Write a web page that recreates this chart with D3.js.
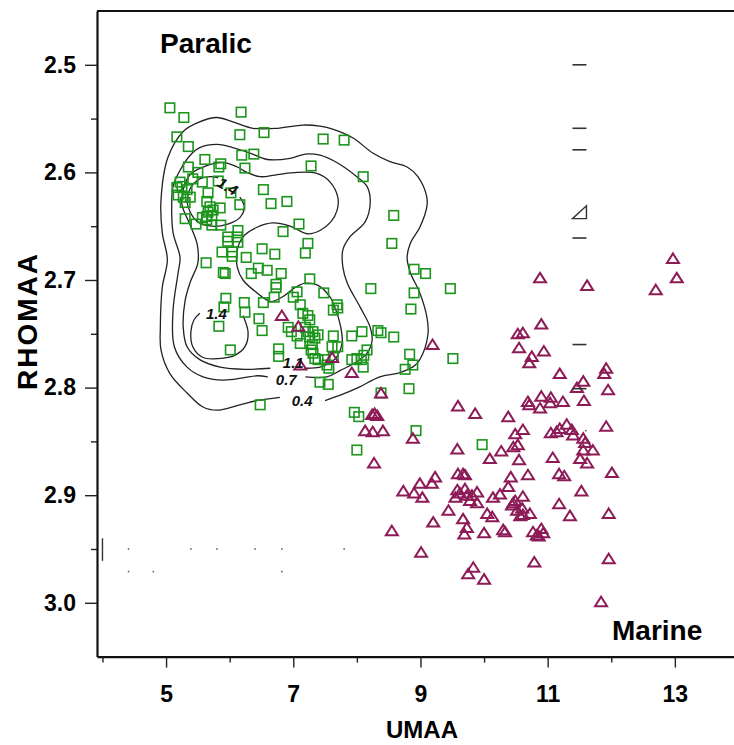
<!DOCTYPE html>
<html>
<head>
<meta charset="utf-8">
<script src="https://cdn.jsdelivr.net/npm/d3@7"></script>
<style>
  body { margin: 0; background: #fff; }
  svg { display: block; font-family: "Liberation Sans", Arial, sans-serif; }
  .tick text { font-weight: bold; }
</style>
</head>
<body>
<div id="chart"></div>
<script>
// Data: [UMAA, RHOMAA]
const paralic = [
  [5.06,2.540],[5.28,2.549],[6.18,2.544],[5.17,2.567],[6.16,2.565],[6.54,2.563],[7.47,2.569],[7.80,2.570],
  [5.35,2.576],[6.19,2.584],[6.38,2.583],[5.61,2.588],[5.86,2.592],[5.83,2.595],[5.35,2.595],[6.24,2.596],
  [7.28,2.594],[8.10,2.604],[5.50,2.600],[5.22,2.609],[5.42,2.606],[5.57,2.609],[5.82,2.608],[6.53,2.616],
  [5.17,2.614],[5.25,2.613],[5.33,2.616],[5.19,2.621],[5.27,2.623],[5.38,2.623],[5.66,2.619],[6.02,2.619],
  [5.64,2.627],[5.69,2.632],[5.66,2.637],[5.72,2.640],[5.64,2.641],[5.74,2.635],[5.85,2.633],[6.16,2.630],
  [5.30,2.628],[6.65,2.629],[6.90,2.627],[5.30,2.643],[5.47,2.648],[5.57,2.642],[5.64,2.644],[5.72,2.649],
  [5.86,2.649],[6.13,2.654],[5.97,2.660],[6.12,2.660],[5.97,2.664],[6.13,2.665],[7.09,2.648],[6.84,2.655],
  [7.23,2.666],[8.58,2.640],[8.55,2.666],[5.88,2.674],[6.04,2.674],[6.04,2.678],[6.51,2.671],[6.71,2.676],
  [7.19,2.675],[6.26,2.679],[5.63,2.684],[5.90,2.693],[5.93,2.694],[6.45,2.689],[6.59,2.691],[6.34,2.694],
  [6.81,2.694],[7.26,2.699],[6.73,2.704],[6.73,2.707],[6.70,2.716],[5.94,2.717],[5.91,2.725],[6.23,2.721],
  [6.24,2.730],[6.53,2.721],[7.00,2.716],[7.06,2.711],[7.48,2.712],[8.90,2.690],[9.08,2.694],[8.22,2.708],
  [9.47,2.708],[8.90,2.712],[8.85,2.727],[7.11,2.723],[7.23,2.733],[7.26,2.737],[7.69,2.723],[7.70,2.726],
  [7.63,2.728],[7.15,2.731],[6.46,2.736],[6.51,2.747],[5.83,2.743],[6.92,2.744],[6.97,2.748],[7.06,2.752],
  [7.11,2.759],[7.19,2.744],[7.23,2.748],[7.26,2.753],[7.31,2.748],[7.39,2.751],[7.34,2.754],[7.63,2.752],
  [7.61,2.762],[7.70,2.762],[6.01,2.765],[6.77,2.764],[6.77,2.771],[7.30,2.760],[7.28,2.765],[7.31,2.768],
  [7.34,2.773],[7.39,2.774],[7.50,2.774],[7.53,2.779],[7.56,2.782],[7.63,2.772],[7.92,2.752],[8.08,2.748],
  [8.33,2.747],[8.38,2.749],[8.58,2.753],[8.16,2.765],[7.92,2.774],[8.00,2.773],[8.07,2.774],[8.11,2.770],
  [8.10,2.781],[8.83,2.769],[9.51,2.773],[8.76,2.783],[8.88,2.779],[7.42,2.795],[7.55,2.797],[8.82,2.801],
  [8.38,2.805],[7.96,2.823],[8.03,2.827],[8.93,2.840],[8.00,2.858],[9.97,2.853],[6.48,2.816]
];

const marine = [
  [6.82,2.733],[7.08,2.743],[7.11,2.779],[7.61,2.772],[7.92,2.786],[9.19,2.760],[8.38,2.805],
  [8.24,2.825],[8.32,2.826],[8.28,2.824],[8.13,2.840],[8.25,2.841],[8.41,2.840],[8.88,2.847],[8.27,2.870],
  [8.55,2.933],[9.01,2.953],[9.59,2.817],[9.86,2.824],[10.38,2.827],[9.58,2.857],
  [10.88,2.698],[11.62,2.705],[12.97,2.680],[13.03,2.698],[12.70,2.709],
  [10.90,2.741],[10.53,2.750],[10.61,2.749],[10.55,2.763],[10.94,2.766],[10.75,2.771],[10.71,2.777],
  [11.19,2.787],[11.92,2.782],[11.89,2.787],[11.56,2.794],[11.46,2.800],[11.95,2.802],[11.57,2.812],
  [11.24,2.813],[10.90,2.808],[11.05,2.809],[11.04,2.814],[10.69,2.813],[10.71,2.816],[10.88,2.819],
  [11.92,2.836],[10.61,2.839],[10.49,2.843],[11.19,2.838],[11.30,2.834],[11.38,2.839],[11.05,2.842],
  [11.40,2.844],[11.56,2.847],[11.59,2.851],[11.56,2.858],[11.71,2.858],[11.51,2.866],[11.62,2.870],
  [10.09,2.866],[10.27,2.859],[10.55,2.867],[10.46,2.855],[10.53,2.853],[11.08,2.865],[12.01,2.879],
  [11.18,2.880],[11.26,2.882],[10.42,2.883],[10.38,2.892],[10.69,2.881],[11.53,2.896],[10.61,2.901],
  [10.25,2.899],[10.14,2.902],[10.46,2.907],[10.44,2.909],[10.52,2.914],[10.60,2.912],[10.57,2.919],
  [10.72,2.917],[10.05,2.917],[10.13,2.920],[11.18,2.908],[11.35,2.919],[11.96,2.917],[10.00,2.935],
  [10.30,2.932],[10.33,2.934],[10.77,2.934],[10.83,2.937],[10.90,2.931],[10.93,2.935],[10.86,2.938],
  [11.96,2.959],[10.79,2.962],[10.00,2.978],[11.84,2.999],
  [9.23,2.883],[8.99,2.889],[9.18,2.889],[8.73,2.896],[8.90,2.898],[9.03,2.902],[9.59,2.880],[9.67,2.880],
  [9.70,2.881],[9.58,2.895],[9.70,2.894],[9.55,2.902],[9.73,2.900],[9.81,2.900],[9.89,2.897],[9.78,2.905],
  [9.89,2.907],[9.44,2.914],[9.20,2.925],[9.67,2.922],[9.73,2.930],[9.69,2.936],[9.83,2.967],[9.75,2.973],
  [9.62,2.898],[10.49,2.905],[10.61,2.918],[11.14,2.841]
];

// Density contours (traced), each an open line broken where its label sits
const contour04 = [
  [7.50,2.812],[7.74,2.807],[8.02,2.800],[8.36,2.790],[8.68,2.786],[8.92,2.779],[9.04,2.768],[9.12,2.749],
  [9.10,2.734],[8.99,2.712],[8.84,2.693],[8.79,2.679],[8.84,2.666],[8.99,2.651],[9.10,2.632],[9.10,2.623],
  [8.96,2.604],[8.79,2.595],[8.52,2.590],[8.25,2.582],[7.94,2.568],[7.63,2.560],[7.42,2.557],[7.15,2.556],
  [6.75,2.559],[6.37,2.559],[6.05,2.553],[5.80,2.549],[5.49,2.554],[5.27,2.562],[5.03,2.586],[4.92,2.626],
  [4.94,2.656],[5.02,2.681],[4.94,2.707],[4.91,2.744],[4.92,2.765],[5.06,2.787],[5.33,2.805],[5.58,2.818],
  [5.80,2.821],[6.16,2.816],[6.43,2.812],[6.79,2.809]
];
const contour07 = [
  [7.19,2.790],[7.53,2.790],[7.74,2.784],[8.00,2.776],[8.16,2.768],[8.24,2.756],[8.21,2.744],[8.05,2.725],
  [7.85,2.703],[7.78,2.688],[7.78,2.672],[7.89,2.660],[8.13,2.646],[8.21,2.628],[8.16,2.613],[8.00,2.604],
  [7.69,2.591],[7.42,2.584],[7.19,2.583],[6.95,2.587],[6.59,2.588],[6.32,2.582],[6.05,2.577],[5.80,2.574],
  [5.53,2.577],[5.38,2.584],[5.22,2.598],[5.11,2.613],[5.09,2.626],[5.11,2.656],[5.22,2.679],[5.19,2.693],
  [5.11,2.728],[5.13,2.762],[5.33,2.781],[5.58,2.790],[5.90,2.793],[6.21,2.791],[6.43,2.789],[6.60,2.790]
];
const contour11 = [
  [7.20,2.782],[7.42,2.781],[7.61,2.776],[7.70,2.770],[7.77,2.758],[7.74,2.742],[7.67,2.728],[7.58,2.716],
  [7.39,2.705],[7.19,2.703],[7.03,2.707],[6.82,2.716],[6.64,2.720],[6.43,2.712],[6.21,2.700],[6.12,2.688],
  [6.12,2.672],[6.21,2.660],[6.43,2.651],[6.68,2.647],[6.95,2.650],[7.22,2.657],[7.42,2.654],[7.59,2.646],
  [7.69,2.635],[7.70,2.623],[7.58,2.609],[7.37,2.601],[7.06,2.600],[6.75,2.602],[6.48,2.604],[6.27,2.600],
  [6.12,2.595],[5.90,2.591],[5.58,2.595],[5.38,2.602],[5.27,2.616],[5.25,2.630],[5.38,2.649],[5.49,2.667],
  [5.50,2.684],[5.38,2.702],[5.30,2.719],[5.27,2.744],[5.33,2.762],[5.53,2.774],[5.85,2.781],[6.24,2.783],
  [6.64,2.782]
];
const contour14low = [
  [6.21,2.733],[6.29,2.749],[6.24,2.762],[6.08,2.770],[5.82,2.773],[5.58,2.772],[5.42,2.762],[5.39,2.748],
  [5.44,2.737],[5.53,2.731]
];
const contour14top = [
  [6.16,2.623],[6.23,2.632],[6.16,2.642],[5.97,2.648],[5.72,2.650],[5.50,2.646],[5.38,2.637],[5.33,2.626],
  [5.38,2.615],[5.50,2.607],[5.69,2.604],[5.82,2.605]
];
const contours = [contour04, contour07, contour11, contour14low, contour14top];

const contourLabels = [
  { text: "0.4", u: 7.14, r: 2.812, angle: 0 },
  { text: "0.7", u: 6.89, r: 2.793, angle: 0 },
  { text: "1.1", u: 7.00, r: 2.777, angle: 0 },
  { text: "1.4", u: 5.79, r: 2.731, angle: 0 },
  { text: "1.4", u: 5.97, r: 2.613, angle: 30 }
];

// stray marks in the original plot
const dashLevels = [2.500, 2.559, 2.579, 2.661, 2.760, 2.801];
const dashSpan = [11.39, 11.61];
const wedge = [[11.39,2.643],[11.61,2.643],[11.61,2.631]];
const strayDots = [
  [4.41,2.950],[5.39,2.950],[5.80,2.950],[6.40,2.950],[6.82,2.950],[7.80,2.950],
  [4.41,2.971],[4.80,2.971],[6.82,2.971],[11.60,2.840]
];
const strayBar = [[4.00,2.940],[4.00,2.961]];

const xMajor = [5, 7, 9, 11, 13];
const xMinor = [4, 6, 8, 10, 12];
const yMajor = [2.5, 2.6, 2.7, 2.8, 2.9, 3.0];
const yMinor = [2.55, 2.65, 2.75, 2.85, 2.95];

// Layout
const W = 734, H = 745;
const plot = { left: 97, right: 734, top: 11, bottom: 656.6 };
const green = "#1c951c", maroon = "#8c1b57";

const svg = d3.select("#chart").append("svg")
    .attr("width", W)
    .attr("height", H);

svg.append("rect").attr("width", W).attr("height", H).attr("fill", "#fff");

const x = d3.scaleLinear().domain([3.914, 13.93]).range([plot.left, plot.right]);
const y = d3.scaleLinear().domain([2.45, 3.05]).range([plot.top, plot.bottom]);

// Contours
const contourLine = d3.line()
    .curve(d3.curveCatmullRom.alpha(0.5))
    .x(d => x(d[0]))
    .y(d => y(d[1]));

svg.append("g")
  .selectAll("path")
  .data(contours)
  .join("path")
    .attr("fill", "none")
    .attr("stroke", "#222")
    .attr("stroke-width", 1.3)
    .attr("d", contourLine);

// Paralic squares
svg.append("g")
  .selectAll("rect")
  .data(paralic)
  .join("rect")
    .attr("x", d => x(d[0]) - 4.75)
    .attr("y", d => y(d[1]) - 4.75)
    .attr("width", 9.5)
    .attr("height", 9.5)
    .attr("fill", "none")
    .attr("stroke", green)
    .attr("stroke-width", 1.6);

// Marine triangles
svg.append("g")
  .selectAll("path")
  .data(marine)
  .join("path")
    .attr("transform", d => `translate(${x(d[0])},${y(d[1])})`)
    .attr("d", "M0,-5L6,4.5L-6,4.5Z")
    .attr("fill", "none")
    .attr("stroke", maroon)
    .attr("stroke-width", 2);

// Contour labels
svg.append("g")
  .selectAll("text")
  .data(contourLabels)
  .join("text")
    .attr("transform", d => `translate(${x(d.u)},${y(d.r)}) rotate(${d.angle})`)
    .attr("text-anchor", "middle")
    .attr("dy", "0.36em")
    .style("font-size", "15px")
    .style("font-weight", "bold")
    .style("font-style", "italic")
    .attr("fill", "#111")
    .text(d => d.text);

// Stray marks
svg.append("g")
  .selectAll("line")
  .data(dashLevels)
  .join("line")
    .attr("x1", x(dashSpan[0])).attr("x2", x(dashSpan[1]))
    .attr("y1", d => y(d)).attr("y2", d => y(d))
    .attr("stroke", "#333")
    .attr("stroke-width", 1.6);

svg.append("path")
    .datum(wedge)
    .attr("fill", "none")
    .attr("stroke", "#333")
    .attr("stroke-width", 1.4)
    .attr("d", d3.line().x(d => x(d[0])).y(d => y(d[1])).curve(d3.curveLinearClosed));

svg.append("g")
  .selectAll("rect")
  .data(strayDots)
  .join("rect")
    .attr("x", d => x(d[0]) - 0.75)
    .attr("y", d => y(d[1]) - 0.75)
    .attr("width", 1.5).attr("height", 1.5)
    .attr("fill", "#555");

svg.append("path")
    .datum(strayBar)
    .attr("stroke", "#333")
    .attr("stroke-width", 1.4)
    .attr("d", d3.line().x(d => x(d[0])).y(d => y(d[1])));

// Axes
const xAxisG = svg.append("g").attr("transform", `translate(0,${plot.bottom})`);
xAxisG.call(d3.axisBottom(x).tickValues(xMinor).tickSize(6).tickSizeOuter(0).tickFormat(""));
xAxisG.call(g => g.select(".domain").remove());
const xAxisMajor = svg.append("g").attr("transform", `translate(0,${plot.bottom})`)
    .call(d3.axisBottom(x).tickValues(xMajor).tickSize(11).tickSizeOuter(0).tickPadding(18).tickFormat(d3.format("d")));

const yAxisG = svg.append("g").attr("transform", `translate(${plot.left},0)`);
yAxisG.call(d3.axisLeft(y).tickValues(yMinor).tickSize(6).tickSizeOuter(0).tickFormat(""));
yAxisG.call(g => g.select(".domain").remove());
const yAxisMajor = svg.append("g").attr("transform", `translate(${plot.left},0)`)
    .call(d3.axisLeft(y).tickValues(yMajor).tickSize(12).tickSizeOuter(0).tickPadding(9).tickFormat(d3.format(".1f")));

[xAxisMajor, yAxisMajor].forEach(g => {
  g.select(".domain").attr("stroke", "#111").attr("stroke-width", 2.2);
  g.selectAll(".tick text").style("font-size", "23px").attr("fill", "#000");
});
svg.selectAll(".tick line").attr("stroke", "#222").attr("stroke-width", 1.4);

// top frame line
svg.append("line")
    .attr("x1", x(3.914)).attr("x2", x(13.93))
    .attr("y1", y(2.45)).attr("y2", y(2.45))
    .attr("stroke", "#111")
    .attr("stroke-width", 2.2);

// Titles
svg.append("text")
    .attr("x", 422).attr("y", 738)
    .attr("text-anchor", "middle")
    .style("font-size", "24px").style("font-weight", "bold")
    .text("UMAA");

svg.append("text")
    .attr("transform", "translate(37,321) rotate(-90)")
    .attr("text-anchor", "middle")
    .style("font-size", "28px").style("font-weight", "bold")
    .style("letter-spacing", "2px")
    .text("RHOMAA");

svg.append("text")
    .attr("x", 160).attr("y", 53)
    .style("font-size", "28px").style("font-weight", "bold")
    .text("Paralic");

svg.append("text")
    .attr("x", 612).attr("y", 640)
    .style("font-size", "28px").style("font-weight", "bold")
    .text("Marine");
</script>
</body>
</html>
